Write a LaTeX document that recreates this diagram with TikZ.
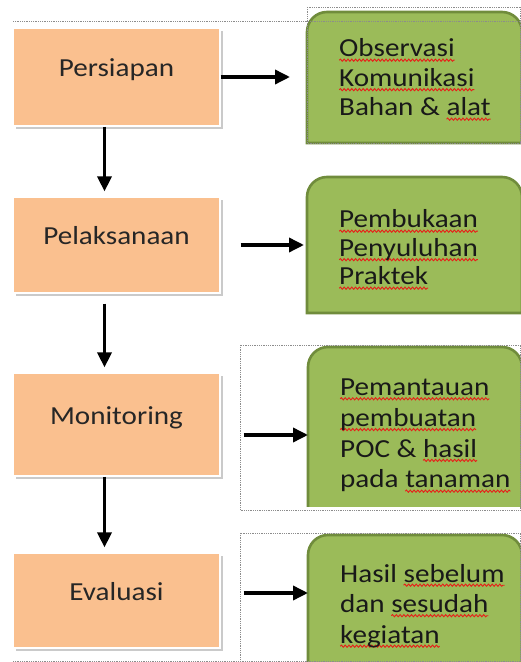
\documentclass[tikz,border=0pt]{standalone}
\usepackage{fontspec}
\setmainfont{Carlito}[FakeStretch=1.12]
\usetikzlibrary{arrows.meta,shadows,decorations.pathmorphing}
\definecolor{peach}{RGB}{250,192,143}
\definecolor{daunhijau}{RGB}{155,187,89}
\definecolor{daungelap}{RGB}{112,140,60}
\definecolor{squiggle}{RGB}{232,30,24}
\newlength\panjangkata
\newcommand\salah[1]{\settowidth\panjangkata{#1}\rlap{\tikz[baseline=0pt, overlay]
  \draw[squiggle, line width=0.9pt, decorate, decoration={snake, amplitude=1.1pt, segment length=3.8pt}]
  (0pt,-3.2pt) -- (\panjangkata,-3.2pt);}#1}
\tikzset{
  tahap/.style={fill=peach, draw=white, line width=1.2pt, minimum width=207pt,
    text height=10pt, text depth=10pt, font=\fontsize{26}{30}\selectfont, text=black!85,
    drop shadow={shadow xshift=2.5pt, shadow yshift=-3pt, opacity=0.35, fill=black!60}},
  hijau/.style={fill=daunhijau, draw=daungelap, line width=2.6pt},
  isi/.style={anchor=base west, align=left, inner sep=0pt, text=black!90},
  panah/.style={-{Triangle[length=15pt,width=14pt]}, line width=3.5pt},
  bingkai/.style={black!45, densely dotted, line width=0.8pt}
}
\begin{document}
\begin{tikzpicture}[x=1pt,y=1pt]
  \useasboundingbox (0,0) rectangle (521,662);
  \clip (0,0) rectangle (521,662);
  % kotak hijau
  \draw[hijau] (307,519) -- (307,630) arc[start angle=180,end angle=90,radius=20] -- (502,650) arc[start angle=90,end angle=0,radius=20] -- (522,519) -- cycle;
  \draw[hijau] (307,349) -- (307,465) arc[start angle=180,end angle=90,radius=20] -- (502,485) arc[start angle=90,end angle=0,radius=20] -- (522,349) -- cycle;
  \draw[hijau] (308,155) -- (308,295) arc[start angle=180,end angle=90,radius=20] -- (502,315) arc[start angle=90,end angle=0,radius=20] -- (522,155);
  \draw[hijau] (308,-5) -- (308,107) arc[start angle=180,end angle=90,radius=20] -- (502,127) arc[start angle=90,end angle=0,radius=20] -- (522,-5);
  % bingkai titik-titik
  \draw[bingkai] (13,641) -- (521,641);
  \draw[bingkai] (307,655) rectangle (520.5,519);
  \draw[bingkai] (240,317) rectangle (520.5,152);
  \draw[bingkai] (240,129) rectangle (520.5,1);
  \draw[bingkai] (13,1) -- (240,1);
  % tahapan
  \node[tahap, minimum height=98pt] (persiapan) at (116.5,585) {Persiapan};
  \node[tahap, minimum height=96pt] (pelaksanaan) at (116.5,417) {Pelaksanaan};
  \node[tahap, minimum height=103pt] (monitoring) at (116.5,237.5) {Monitoring};
  \node[tahap, minimum height=95pt] (evaluasi) at (116.5,61.5) {Evaluasi};
  % isi kotak hijau (anchor di baris terakhir)
  \coordinate (tepi1) at (307,585);
  \coordinate (tepi2) at (307,417);
  \coordinate (tepi3) at (308,227);
  \coordinate (tepi4) at (308,69);
  \node[isi, font=\fontsize{26}{29.5}\selectfont] (observasi) at (339,546)
       {\salah{Observasi}\\ \salah{Komunikasi}\\ Bahan \& \salah{alat}};
  \node[isi, font=\fontsize{26}{28.5}\selectfont] (pembukaan) at (339,377)
       {\salah{Pembukaan}\\ \salah{Penyuluhan}\\ \salah{Praktek}};
  \node[isi, font=\fontsize{26}{30.8}\selectfont] (pemantauan) at (340,174)
       {\salah{Pemantauan}\\ \salah{pembuatan}\\ POC \& \salah{hasil}\\ pada \salah{tanaman}};
  \node[isi, font=\fontsize{26}{30.5}\selectfont] (hasil) at (340,19)
       {Hasil \salah{sebelum}\\ dan \salah{sesudah}\\ \salah{kegiatan}};
  % panah
  \draw[panah, shorten >=17pt] (persiapan.east) -- (tepi1);
  \draw[panah, shorten <=20pt, shorten >=3pt] (pelaksanaan.east) -- (tepi2);
  \draw[panah, shorten <=23pt] (monitoring.east |- tepi3) -- (tepi3);
  \draw[panah, shorten <=23pt] (evaluasi.east |- tepi4) -- (tepi4);
  \draw[panah, shorten >=5pt] ([xshift=-12pt]persiapan.south) -- ([xshift=-12pt]pelaksanaan.north);
  \draw[panah, shorten <=10pt, shorten >=5pt] ([xshift=-12pt]pelaksanaan.south) -- ([xshift=-12pt]monitoring.north);
  \draw[panah, shorten >=5pt] ([xshift=-12pt]monitoring.south) -- ([xshift=-12pt]evaluasi.north);
\end{tikzpicture}
\end{document}
